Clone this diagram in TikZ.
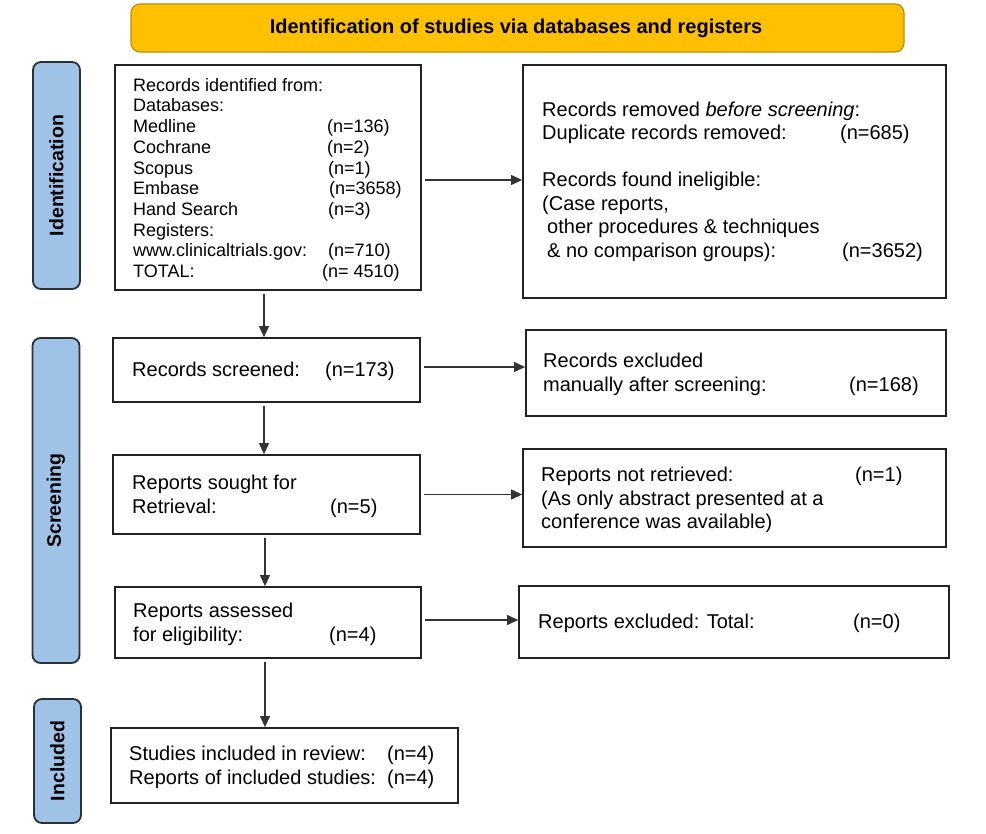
\documentclass[tikz,border=0pt]{standalone}
\usepackage{fontspec}
\setmainfont{Liberation Sans}
\usetikzlibrary{arrows.meta,calc}
\definecolor{hdrfill}{HTML}{FFC000}
\definecolor{hdrline}{HTML}{C09000}
\definecolor{sidefill}{HTML}{9FC3E7}
\definecolor{sideline}{HTML}{2B2F36}
\definecolor{boxline}{HTML}{222222}
\definecolor{arrline}{HTML}{333333}
\newcommand{\tb}[2]{\makebox[#1][l]{#2}}
\begin{document}
\begin{tikzpicture}[x=1pt,y=-1pt,
  box/.style={draw=boxline,line width=1.8pt,fill=white,inner sep=0pt},
  side/.style={draw=sideline,line width=1.8pt,fill=sidefill,rounded corners=8pt,inner sep=0pt,minimum width=47pt},
  sidetxt/.style={rotate=90,font=\fontsize{19.5}{22}\selectfont\bfseries,inner sep=0pt},
  txta/.style={anchor=north west,align=left,inner sep=0pt,font=\fontsize{18}{20.7}\selectfont},
  txtb/.style={anchor=north west,align=left,inner sep=0pt,font=\fontsize{20}{23.5}\selectfont},
  txtc/.style={anchor=west,inner sep=0pt,font=\fontsize{20}{23.5}\selectfont},
  arr/.style={draw=arrline,line width=1.1pt,-{Triangle[length=11pt,width=10pt]},shorten <=3pt}
]
\useasboundingbox (0,0) rectangle (986,834);
\fill[white] (0,0) rectangle (986,834);

% header
\node[draw=hdrline,line width=1.2pt,fill=hdrfill,rounded corners=9pt,minimum width=773pt,minimum height=48pt,inner sep=0pt] (hdr) at (517.5,28) {};
\node[font=\fontsize{20}{23}\selectfont\bfseries,inner sep=0pt] (hdrtxt) at (516,28) {Identification of studies via databases and registers};

% side bars
\node[side,minimum height=227pt] (sid) at (56.5,175.5) {};
\node[sidetxt] (sidt) at (sid.center) {Identification};
\node[side,minimum height=325pt] (sscr) at (56,500.5) {};
\node[sidetxt] (sscrt) at (sscr.center) {Screening};
\node[side,minimum height=124pt] (sinc) at (57.5,761) {};
\node[sidetxt] (sinct) at (sinc.center) {Included};

% left column boxes
\node[box,minimum width=306pt,minimum height=225pt] (ident) at (268,177.5) {};
\node[txta] (identt) at (133,78) {Records identified from:\\
Databases:\\
\tb{194pt}{Medline}(n=136)\\
\tb{194pt}{Cochrane}(n=2)\\
\tb{195pt}{Scopus}(n=1)\\
\tb{196pt}{Embase}(n=3658)\\
\tb{195pt}{Hand Search}(n=3)\\
Registers:\\
\tb{195pt}{www.clinicaltrials.gov:}(n=710)\\
\tb{189pt}{TOTAL:}(n= 4510)};

\node[box,minimum width=307pt,minimum height=64pt] (scr) at (266.5,370) {};
\node[txtc] (scrt) at (132,371) {\tb{193pt}{Records screened:}(n=173)};

\node[box,minimum width=307pt,minimum height=79pt] (sought) at (266.5,494.5) {};
\node[txtb] (soughtt) at (132,475) {Reports sought for\\\tb{198pt}{Retrieval:}(n=5)};

\node[box,minimum width=306pt,minimum height=71pt] (assess) at (268,622.5) {};
\node[txtb] (assesst) at (133,603) {Reports assessed\\\tb{196pt}{for eligibility:}(n=4)};

\node[box,minimum width=347pt,minimum height=75pt] (incl) at (284.5,765.5) {};
\node[txtb] (inclt) at (129,746) {\tb{258pt}{Studies included in review:}(n=4)\\\tb{258pt}{Reports of included studies:}(n=4)};

% right column boxes
\node[box,minimum width=423pt,minimum height=233pt] (rem) at (734.5,181.5) {};
\node[txtb] (remt) at (542,101.7) {Records removed \textit{before screening}:\\
\tb{298pt}{Duplicate records removed:}(n=685)\\
\mbox{}\\
Records found ineligible:\\
(Case reports,\\
\hspace*{5pt}other procedures \& techniques\\
\hspace*{5pt}\tb{295pt}{\& no comparison groups):}(n=3652)};

\node[box,minimum width=420pt,minimum height=86pt] (excl) at (736,373) {};
\node[txtb] (exclt) at (543,353) {Records excluded\\\tb{306pt}{manually after screening:}(n=168)};

\node[box,minimum width=423pt,minimum height=98pt] (notr) at (734.5,498) {};
\node[txtb] (notrt) at (541,467) {\tb{314pt}{Reports not retrieved:}(n=1)\\(As only abstract presented at a\\conference was available)};

\node[box,minimum width=430pt,minimum height=72pt] (repx) at (734,622) {};
\node[txtc] (repxt) at (538,623) {\tb{315pt}{Reports excluded: Total:}(n=0)};

% connectors
\draw[arr] ([xshift=-4pt]ident.south) -- ([xshift=-4pt]ident.south |- scr.north);
\draw[arr] ([xshift=-2.5pt]scr.south) -- ([xshift=-2.5pt]scr.south |- sought.north);
\draw[arr] ([xshift=-1.5pt]sought.south) -- ([xshift=-1.5pt]sought.south |- assess.north);
\draw[arr] ([xshift=-3pt]assess.south) -- ([xshift=-3pt]assess.south |- incl.north);
\draw[arr] ([yshift=-2.5pt]ident.east) -- ([yshift=-2.5pt]ident.east -| rem.west);
\draw[arr] ([yshift=3pt]scr.east) -- ([yshift=3pt]scr.east -| excl.west);
\draw[arr] (sought.east) -- (sought.east -| notr.west);
\draw[arr] ([yshift=2.5pt]assess.east) -- ([yshift=2.5pt]assess.east -| repx.west);
\end{tikzpicture}
\end{document}
